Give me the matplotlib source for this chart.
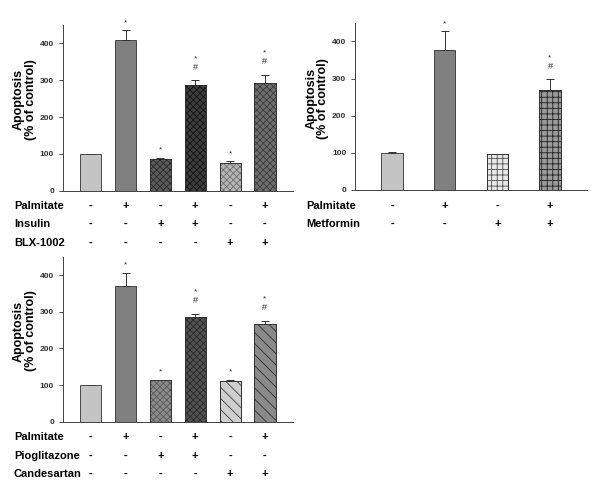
import numpy as np
import matplotlib
matplotlib.use("Agg")
import matplotlib.pyplot as plt

plt.rcParams['font.family'] = ['Liberation Sans', 'DejaVu Sans']
plt.rcParams['hatch.linewidth'] = 0.6

# Panel A: palmitate / insulin / BLX-1002
a_vals = [100, 410, 85, 287, 75, 293]
a_errs = [1, 25, 5, 13, 5, 22]
a_star = ['', '*', '*', '*', '*', '*']
a_hash = ['', '', '', '#', '', '#']
a_rows = {'Palmitate': ['-', '+', '-', '+', '-', '+'],
          'Insulin': ['-', '-', '+', '+', '-', '-'],
          'BLX-1002': ['-', '-', '-', '-', '+', '+']}

# Panel B: palmitate / metformin
b_vals = [100, 377, 96, 270]
b_errs = [1, 50, 2, 28]
b_star = ['', '*', '', '*']
b_hash = ['', '', '', '#']
b_rows = {'Palmitate': ['-', '+', '-', '+'],
          'Metformin': ['-', '-', '+', '+']}

# Panel C: palmitate / pioglitazone / candesartan
c_vals = [100, 371, 113, 286, 111, 266]
c_errs = [1, 35, 2, 9, 3, 10]
c_star = ['', '*', '*', '*', '*', '*']
c_hash = ['', '', '', '#', '', '#']
c_rows = {'Palmitate': ['-', '+', '-', '+', '-', '+'],
          'Pioglitazone': ['-', '-', '+', '+', '-', '-'],
          'Candesartan': ['-', '-', '-', '-', '+', '+']}

# (facecolor, hatch, hatch colour)
a_style = [('#c4c4c4', None, None), ('#808080', None, None),
           ('#5a5a5a', 'xxxxx', '#2a2a2a'), ('#3c3c3c', 'xxxxx', '#151515'),
           ('#b4b4b4', 'xxxxx', '#707070'), ('#6e6e6e', 'xxxxx', '#3a3a3a')]
b_style = [('#c4c4c4', None, None), ('#808080', None, None),
           ('#e8e8e8', '+++', '#505050'), ('#9a9a9a', '+++', '#202020')]
c_style = [('#c4c4c4', None, None), ('#808080', None, None),
           ('#8a8a8a', 'xxxxx', '#5a5a5a'), ('#505050', 'xxxxx', '#2a2a2a'),
           ('#cfcfcf', '\\\\\\', '#404040'), ('#8a8a8a', '\\\\\\', '#303030')]


def panel(rect, vals, errs, stars, hashes, rows, styles, width, xpad, row_px):
    ax = fig.add_axes(rect)
    x = np.arange(len(vals))
    for i in range(len(vals)):
        fc, h, hc = styles[i]
        ax.bar(x[i], vals[i], width=width, color=fc, edgecolor='#303030',
               linewidth=0.6, zorder=2)
        if h:
            ax.bar(x[i], vals[i], width=width, color='none', edgecolor=hc,
                   linewidth=0, hatch=h, zorder=3)
            ax.bar(x[i], vals[i], width=width, color='none', edgecolor='#303030',
                   linewidth=0.6, zorder=4)
        ax.errorbar(x[i], vals[i], yerr=[[0], [errs[i]]], color='#303030',
                    elinewidth=0.7, capsize=3, capthick=0.7, zorder=1)
        top = vals[i] + errs[i]
        if hashes[i]:
            ax.annotate('#', (x[i], top), xytext=(0, 6), textcoords='offset points',
                        ha='center', va='bottom', fontsize=6.5, color='#303030')
            ax.annotate('*', (x[i], top), xytext=(0, 13), textcoords='offset points',
                        ha='center', va='bottom', fontsize=6, color='#303030')
        elif stars[i]:
            ax.annotate('*', (x[i], top), xytext=(0, 3), textcoords='offset points',
                        ha='center', va='bottom', fontsize=6, color='#303030')
    ax.set_xlim(-xpad, len(vals) - 1 + xpad)
    ax.set_ylim(0, 450)
    ax.set_yticks([0, 100, 200, 300, 400])
    ax.set_xticks([])
    ax.tick_params(axis='y', labelsize=6, length=3, width=0.6, colors='#303030')
    for lab in ax.get_yticklabels():
        lab.set_fontweight('bold')
    for s in ['top', 'right']:
        ax.spines[s].set_visible(False)
    for s in ['left', 'bottom']:
        ax.spines[s].set_linewidth(0.7)
        ax.spines[s].set_color('#404040')
    ax.set_ylabel('Apoptosis\n(% of control)', fontsize=9, fontweight='bold',
                  linespacing=1.0)
    ax.yaxis.set_label_coords(-26 / (rect[2] * 600), 0.55)
    for (name, signs), py in zip(rows.items(), row_px):
        fy = 1 - py / 498
        fig.text(rect[0] - 49 / 600, fy, name, fontsize=8, fontweight='bold',
                 va='center', ha='left')
        for xi, sg in zip(x, signs):
            fx = ax.transData.transform((xi, 0))[0] / fig.bbox.width
            fig.text(fx, fy, sg, fontsize=8, fontweight='bold', ha='center', va='center')
    return ax


fig = plt.figure(figsize=(6, 4.98), dpi=100)
panel([0.105, 0.617, 0.383, 0.333], a_vals, a_errs, a_star, a_hash, a_rows,
      a_style, 0.61, 0.8, [206, 224, 243])
panel([0.592, 0.6185, 0.386, 0.3355], b_vals, b_errs, b_star, b_hash, b_rows,
      b_style, 0.41, 0.7, [206, 224])
panel([0.105, 0.1532, 0.383, 0.3313], c_vals, c_errs, c_star, c_hash, c_rows,
      c_style, 0.61, 0.8, [437, 456, 474])
fig.savefig('out.png', dpi=100)
